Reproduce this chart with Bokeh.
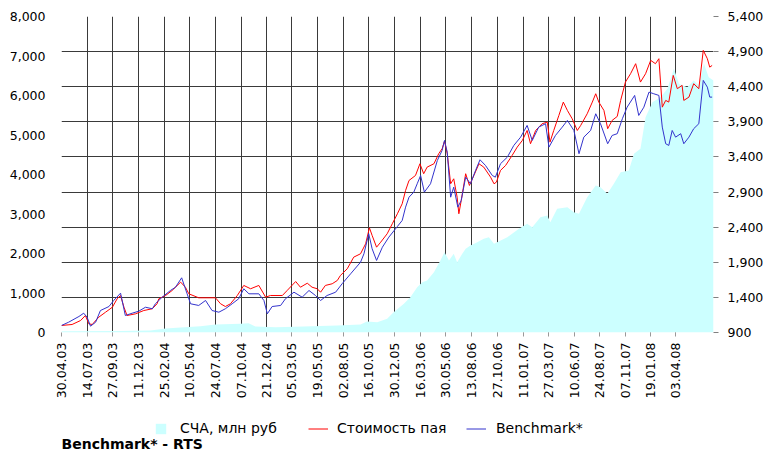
import pandas as pd
from math import pi
from bokeh.plotting import figure
from bokeh.layouts import column
from bokeh.models import (Range1d, LinearAxis, FixedTicker, Grid, NumeralTickFormatter,
                          DatetimeTickFormatter, Legend, LegendItem, Label, ColumnDataSource)
from bokeh.embed import file_html
from bokeh.resources import INLINE

# ---------------- data ----------------
tick_labels = ["30.04.03", "14.07.03", "27.09.03", "11.12.03", "25.02.04", "10.05.04", "24.07.04",
               "07.10.04", "21.12.04", "05.03.05", "19.05.05", "02.08.05", "16.10.05", "30.12.05",
               "16.03.06", "30.05.06", "13.08.06", "27.10.06", "11.01.07", "27.03.07", "10.06.07",
               "24.08.07", "07.11.07", "19.01.08", "03.04.08"]
left_ticks = [0, 1000, 2000, 3000, 4000, 5000, 6000, 7000, 8000]
right_ticks = [900, 1400, 1900, 2400, 2900, 3400, 3900, 4400, 4900, 5400]

unit_dates = ["2003-04-30", "2003-05-31", "2003-06-25", "2003-07-09", "2003-07-19", "2003-07-29",
              "2003-08-17", "2003-09-06", "2003-09-26", "2003-10-10", "2003-10-20", "2003-10-30",
              "2003-11-08", "2003-12-03", "2003-12-27", "2004-01-21", "2004-02-04", "2004-02-09",
              "2004-02-29", "2004-03-19", "2004-04-13", "2004-04-27", "2004-05-07", "2004-06-05",
              "2004-07-24", "2004-08-08", "2004-08-22", "2004-09-06", "2004-09-26", "2004-10-15",
              "2004-11-04", "2004-11-28", "2004-12-18", "2005-01-01", "2005-02-05", "2005-02-19",
              "2005-03-16", "2005-03-30", "2005-04-19", "2005-05-03", "2005-05-18", "2005-05-28",
              "2005-06-11", "2005-07-01", "2005-07-16", "2005-07-25", "2005-08-14", "2005-09-02",
              "2005-09-22", "2005-10-07", "2005-10-18", "2005-10-26", "2005-11-08", "2005-11-20",
              "2005-12-09", "2005-12-24", "2006-01-08", "2006-01-22", "2006-02-01", "2006-02-11",
              "2006-03-02", "2006-03-15", "2006-03-26", "2006-04-05", "2006-04-25", "2006-05-09",
              "2006-05-19", "2006-05-26", "2006-06-03", "2006-06-13", "2006-06-22", "2006-07-02",
              "2006-07-07", "2006-07-14", "2006-07-27", "2006-08-07", "2006-08-20", "2006-09-04",
              "2006-09-18", "2006-10-08", "2006-10-18", "2006-10-25", "2006-11-06", "2006-11-21",
              "2006-12-10", "2006-12-25", "2007-01-09", "2007-01-23", "2007-02-02", "2007-02-17",
              "2007-03-08", "2007-03-23", "2007-03-31", "2007-04-11", "2007-04-26", "2007-05-09",
              "2007-05-21", "2007-06-04", "2007-06-19", "2007-06-29", "2007-07-18", "2007-08-02",
              "2007-08-12", "2007-08-21", "2007-09-05", "2007-09-16", "2007-09-29", "2007-10-14",
              "2007-10-24", "2007-11-07", "2007-11-22", "2007-12-07", "2007-12-21", "2008-01-05",
              "2008-01-20", "2008-02-03", "2008-02-13", "2008-02-23", "2008-03-04", "2008-03-13",
              "2008-03-26", "2008-04-07", "2008-04-21", "2008-04-26", "2008-05-11", "2008-05-25",
              "2008-06-09", "2008-06-22", "2008-07-04", "2008-07-11", "2008-07-18"]
unit_values = [1000, 1014, 1071, 1142, 1024, 1014, 1118, 1189, 1260, 1380, 1427, 1260,
               1142, 1166, 1213, 1238, 1309, 1380, 1427, 1498, 1617, 1545, 1451, 1394,
               1394, 1309, 1270, 1309, 1427, 1570, 1523, 1570, 1403, 1427, 1427, 1498,
               1626, 1545, 1602, 1545, 1523, 1474, 1570, 1594, 1641, 1712, 1807, 1973,
               2021, 2164, 2391, 2282, 2115, 2186, 2306, 2448, 2591, 2733, 2923, 3065,
               3136, 3303, 3161, 3255, 3303, 3446, 3517, 3625, 3446, 3018, 3089, 2827,
               2591, 2780, 3161, 2994, 3136, 3303, 3255, 3112, 3018, 3041, 3208, 3279,
               3421, 3540, 3635, 3777, 3588, 3777, 3873, 3896, 3611, 3777, 3991, 4181,
               4062, 3944, 3777, 3849, 4015, 4181, 4300, 4181, 4062, 3802, 3920, 3977,
               4205, 4466, 4585, 4728, 4466, 4585, 4775, 4728, 4799, 4109, 4205, 4181,
               4561, 4372, 4419, 4205, 4252, 4443, 4372, 4917, 4799, 4679, 4703]

bench_dates = ["2003-04-30", "2003-05-21", "2003-06-20", "2003-07-04", "2003-07-14", "2003-07-24",
               "2003-08-08", "2003-08-22", "2003-09-16", "2003-09-30", "2003-10-20", "2003-11-03",
               "2003-11-23", "2003-12-12", "2004-01-01", "2004-01-21", "2004-01-30", "2004-02-19",
               "2004-03-14", "2004-03-29", "2004-04-16", "2004-05-02", "2004-05-12", "2004-06-05",
               "2004-06-25", "2004-07-14", "2004-08-03", "2004-08-22", "2004-09-11", "2004-09-30",
               "2004-10-15", "2004-10-30", "2004-11-28", "2004-12-13", "2004-12-23", "2005-01-06",
               "2005-01-31", "2005-02-14", "2005-03-11", "2005-04-04", "2005-04-24", "2005-05-13",
               "2005-05-28", "2005-06-16", "2005-07-11", "2005-07-30", "2005-08-24", "2005-09-22",
               "2005-10-02", "2005-10-16", "2005-10-26", "2005-11-08", "2005-11-25", "2005-12-14",
               "2006-01-08", "2006-01-22", "2006-02-01", "2006-02-11", "2006-02-25", "2006-03-07",
               "2006-03-17", "2006-03-28", "2006-04-15", "2006-05-05", "2006-05-19", "2006-05-26",
               "2006-06-03", "2006-06-13", "2006-06-22", "2006-07-04", "2006-07-14", "2006-07-27",
               "2006-08-10", "2006-08-25", "2006-09-07", "2006-09-23", "2006-10-13", "2006-10-22",
               "2006-11-06", "2006-11-26", "2006-12-15", "2007-01-04", "2007-01-23", "2007-02-07",
               "2007-02-26", "2007-03-18", "2007-03-28", "2007-04-16", "2007-05-06", "2007-05-21",
               "2007-06-09", "2007-06-24", "2007-07-08", "2007-07-28", "2007-08-12", "2007-08-26",
               "2007-09-16", "2007-09-29", "2007-10-14", "2007-10-29", "2007-11-12", "2007-12-04",
               "2007-12-16", "2007-12-31", "2008-01-15", "2008-01-29", "2008-02-13", "2008-02-23",
               "2008-03-04", "2008-03-13", "2008-03-23", "2008-04-02", "2008-04-17", "2008-04-26",
               "2008-05-11", "2008-05-25", "2008-06-09", "2008-06-22", "2008-07-04", "2008-07-11",
               "2008-07-18"]
bench_values = [1000, 1047, 1128, 1175, 1118, 990, 1047, 1213, 1270, 1356, 1460, 1142,
                1175, 1203, 1260, 1238, 1309, 1403, 1498, 1545, 1679, 1451, 1309, 1285,
                1356, 1213, 1189, 1238, 1309, 1380, 1523, 1451, 1451, 1356, 1166, 1270,
                1285, 1380, 1474, 1403, 1498, 1427, 1356, 1427, 1474, 1594, 1736, 1901,
                2021, 2306, 2092, 1926, 2115, 2258, 2410, 2495, 2685, 2827, 2899, 3018,
                3136, 2899, 3018, 3350, 3493, 3635, 3468, 2827, 2970, 2685, 2780, 3112,
                3018, 3208, 3360, 3279, 3136, 3112, 3303, 3397, 3564, 3682, 3849, 3635,
                3825, 3873, 3540, 3706, 3825, 3920, 3777, 3446, 3682, 3777, 4015, 3873,
                3588, 3706, 3731, 3944, 4109, 4276, 3991, 4109, 4323, 4300, 4276, 3825,
                3588, 3564, 3777, 3682, 3731, 3588, 3682, 3802, 3873, 4490, 4394, 4252,
                4252]

nav_dates = ["2003-04-30", "2003-10-20", "2004-01-16", "2004-02-29", "2004-04-13", "2004-06-10",
             "2004-07-24", "2004-10-05", "2004-10-29", "2004-11-18", "2005-01-16", "2005-04-08",
             "2005-07-16", "2005-09-22", "2005-10-11", "2005-11-10", "2005-12-09", "2005-12-28",
             "2006-01-27", "2006-02-15", "2006-03-07", "2006-03-22", "2006-04-05", "2006-04-25",
             "2006-05-14", "2006-05-26", "2006-06-08", "2006-06-22", "2006-07-02", "2006-07-17",
             "2006-07-27", "2006-08-10", "2006-08-30", "2006-09-18", "2006-10-03", "2006-10-18",
             "2006-11-26", "2006-12-30", "2007-01-23", "2007-02-07", "2007-03-03", "2007-03-23",
             "2007-04-01", "2007-04-21", "2007-05-21", "2007-06-09", "2007-06-24", "2007-07-18",
             "2007-08-12", "2007-08-26", "2007-09-15", "2007-10-04", "2007-10-24", "2007-11-17",
             "2007-12-02", "2007-12-21", "2008-01-05", "2008-01-25", "2008-02-18", "2008-03-09",
             "2008-03-28", "2008-04-12", "2008-05-06", "2008-05-25", "2008-06-09", "2008-06-24",
             "2008-07-08", "2008-07-22"]
nav_values = [30, 38, 51, 101, 127, 160, 203, 220, 235, 152, 134, 152,
              177, 203, 279, 261, 347, 514, 727, 894, 1147, 1274, 1317, 1527,
              1823, 2033, 1823, 1993, 1780, 1993, 2119, 2203, 2286, 2373, 2413, 2246,
              2413, 2626, 2752, 2666, 2919, 2962, 2793, 3132, 3173, 3046, 3006, 3426,
              3722, 3679, 3512, 3765, 4059, 4102, 4525, 4651, 5451, 5831, 5958, 6171,
              6677, 6297, 6211, 6381, 6254, 6803, 6464, 6381]

nav_label = "СЧА, млн руб"
unit_label = "Стоимость пая"
bench_label = "Benchmark*"
footnote = "Benchmark* - RTS"

NAV_COLOR = "#CCFFFF"
UNIT_COLOR = "#FF0000"
BENCH_COLOR = "#3333CC"
FONT = "DejaVu Sans"

# ---------------- main chart ----------------
x_start = pd.Timestamp(nav_dates[0])
x_end = pd.Timestamp(nav_dates[-1])

p = figure(width=768, height=408, x_axis_type="datetime", y_axis_location=None,
           x_range=Range1d(x_start, x_end), y_range=Range1d(right_ticks[0], right_ticks[-1]),
           output_backend="svg", toolbar_location=None,
           min_border_left=61, min_border_right=55, min_border_top=16, min_border_bottom=76)
p.extra_y_ranges = {"nav": Range1d(left_ticks[0], left_ticks[-1])}
p.outline_line_color = None
p.background_fill_color = "white"
p.border_fill_color = "white"
p.ygrid.visible = False

tick_ms = [pd.to_datetime(t, format="%d.%m.%y").timestamp() * 1000 for t in tick_labels]
xa = p.xaxis[0]
xa.ticker = FixedTicker(ticks=tick_ms)
fmt = "%d.%m.%y"
xa.formatter = DatetimeTickFormatter(days=fmt, months=fmt, years=fmt, hours=fmt,
                                     hourmin=fmt, minutes=fmt, seconds=fmt)
xa.major_label_orientation = pi / 2
xa.major_label_text_font = FONT
xa.major_label_text_font_size = "12.5px"
xa.major_label_text_color = "black"
xa.axis_line_color = None
xa.major_tick_line_color = "#999999"
xa.major_tick_in = 0
xa.major_tick_out = 4
xa.minor_tick_line_color = None
xa.major_label_standoff = 6

p.xgrid.grid_line_color = "#3a3a3a"
p.xgrid.grid_line_width = 1

left_axis = LinearAxis(y_range_name="nav", ticker=FixedTicker(ticks=left_ticks),
                       formatter=NumeralTickFormatter(format="0,0"))
left_axis.axis_line_color = None
left_axis.major_tick_line_color = None
left_axis.major_tick_in = 0
left_axis.major_tick_out = 0
left_axis.minor_tick_line_color = None
left_axis.minor_tick_in = 0
left_axis.minor_tick_out = 0
left_axis.major_label_standoff = 16
left_axis.major_label_text_font = FONT
left_axis.major_label_text_font_size = "12.5px"
left_axis.major_label_text_color = "black"
p.add_layout(left_axis, "left")

right_axis = LinearAxis(ticker=FixedTicker(ticks=right_ticks),
                        formatter=NumeralTickFormatter(format="0,0"))
right_axis.axis_line_color = None
right_axis.major_tick_line_color = "#808080"
right_axis.major_tick_in = 0
right_axis.major_tick_out = 5
right_axis.minor_tick_line_color = None
right_axis.minor_tick_in = 0
right_axis.minor_tick_out = 0
right_axis.major_label_standoff = 9
right_axis.major_label_text_font = FONT
right_axis.major_label_text_font_size = "12.5px"
right_axis.major_label_text_color = "black"
p.add_layout(right_axis, "right")

p.add_layout(Grid(dimension=1, ticker=FixedTicker(ticks=right_ticks),
                  grid_line_color="#3a3a3a", grid_line_width=1))

nav_src = ColumnDataSource(dict(x=pd.to_datetime(nav_dates), v=nav_values))
unit_src = ColumnDataSource(dict(x=pd.to_datetime(unit_dates), v=unit_values))
bench_src = ColumnDataSource(dict(x=pd.to_datetime(bench_dates), v=bench_values))

p.varea(x="x", y1=0, y2="v", source=nav_src, y_range_name="nav",
        fill_color=NAV_COLOR, fill_alpha=1.0)
p.line(x="x", y="v", source=unit_src, line_color=UNIT_COLOR, line_width=1)
p.line(x="x", y="v", source=bench_src, line_color=BENCH_COLOR, line_width=1)

# ---------------- legend strip under the chart ----------------
# its frame is aligned with the chart frame; the key renderers reuse the series
# sources but fall outside this strip's ranges, so only their legend swatches show
LW, LH = 768, 43
q = figure(width=LW, height=LH, x_range=Range1d(0, 652), y_range=Range1d(0, LH),
           x_axis_location=None, y_axis_location=None, output_backend="svg",
           toolbar_location=None, min_border=0)
q.outline_line_color = None
q.xgrid.visible = False
q.ygrid.visible = False
q.background_fill_color = "white"
q.border_fill_color = "white"

k_nav = q.varea(x="x", y1=0, y2="v", source=nav_src, fill_color=NAV_COLOR, fill_alpha=1.0)
k_unit = q.line(x="x", y="v", source=unit_src, line_color=UNIT_COLOR, line_width=1)
k_bench = q.line(x="x", y="v", source=bench_src, line_color=BENCH_COLOR, line_width=1)


def add_key(label, renderer, x, gw, standoff):
    q.add_layout(Legend(items=[LegendItem(label=label, renderers=[renderer])],
                        location=(x, 15), orientation="horizontal",
                        glyph_width=gw, glyph_height=13, label_height=13,
                        label_standoff=standoff, padding=0, margin=0, spacing=0,
                        label_text_font=FONT, label_text_font_size="14px",
                        label_text_color="black", border_line_alpha=0,
                        background_fill_alpha=0))


add_key(nav_label, k_nav, 93, 13, 13)
add_key(unit_label, k_unit, 247, 20, 9)
add_key(bench_label, k_bench, 405, 20, 10)

q.add_layout(Label(x=0, y=8, text=footnote, text_font=FONT, text_font_size="14px",
                   text_font_style="bold", text_color="black",
                   text_baseline="alphabetic", text_align="left"))

open("out.html", "w").write(file_html(column(p, q), INLINE))
